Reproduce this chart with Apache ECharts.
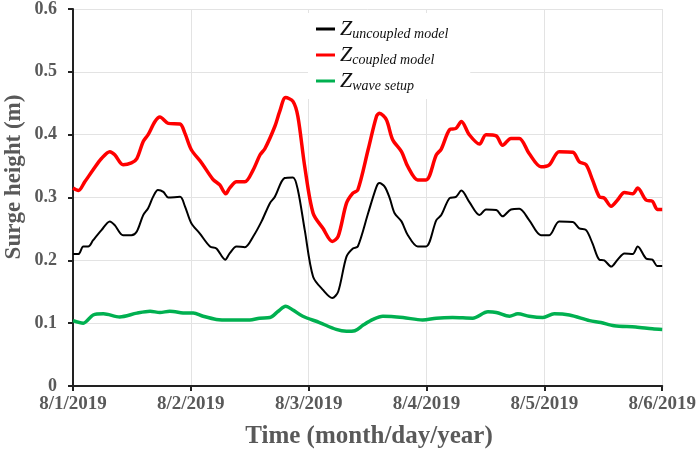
<!DOCTYPE html>
<html>
<head>
<meta charset="utf-8">
<script src="https://cdn.jsdelivr.net/npm/echarts@6/dist/echarts.min.js"></script>
<style>
html,body{margin:0;padding:0;background:#fff;}
#chart{width:699px;height:453px;}
</style>
</head>
<body>
<div id="chart"></div>
<script>
// Tick labels for x axis (every 24 h from 8/1/2019 00:00)
var dateLabels = ['8/1/2019','8/2/2019','8/3/2019','8/4/2019','8/5/2019','8/6/2019'];

// Z uncoupled model (black): hours since 8/1 00:00, surge (m)
var uncoupledHours = [0,1.1,2.1,3.1,4.1,5.8,7.5,8.5,10.2,11.9,13.0,14.3,15.3,16.3,17.3,18.4,19.4,21.8,22.8,24.1,25.8,27.9,29.2,31.0,31.9,33.3,35.0,36.7,38.4,40.1,41.1,43.1,44.8,45.8,47.2,48.9,50.9,52.8,54.0,55.7,57.0,58.0,60.1,61.8,62.4,63.5,64.5,65.5,66.9,68.2,70.2,71.9,74.0,75.0,76.7,78.0,79.1,80.7,82.8,84.1,86.2,87.5,89.2,90.9,92.9,95.3,97.0,99.0,101.8,103.1,104.5,105.8,107.2,108.2,109.6,110.9,112.3,114.0,115.0,116.7,118.0,119.0,120];
var uncoupledValues = [0.210,0.210,0.222,0.222,0.232,0.248,0.262,0.256,0.240,0.240,0.246,0.272,0.283,0.301,0.312,0.309,0.300,0.301,0.286,0.259,0.243,0.222,0.219,0.201,0.211,0.222,0.221,0.238,0.262,0.291,0.301,0.331,0.332,0.312,0.248,0.174,0.153,0.140,0.150,0.206,0.219,0.222,0.275,0.317,0.323,0.317,0.299,0.275,0.262,0.240,0.222,0.222,0.264,0.272,0.299,0.301,0.311,0.293,0.272,0.281,0.280,0.270,0.281,0.282,0.264,0.240,0.240,0.262,0.261,0.251,0.248,0.227,0.201,0.200,0.190,0.201,0.211,0.210,0.222,0.203,0.201,0.191,0.191];

// Z coupled model (red)
var coupledHours = [0,1.1,2.4,4.1,5.8,7.5,8.5,10.2,11.9,13.0,14.3,15.3,16.7,17.7,19.4,21.8,22.8,24.1,26.2,28.5,29.9,31.1,31.9,33.3,35.0,36.7,38.1,39.1,41.1,42.1,43.3,44.8,45.8,47.2,48.9,50.9,52.8,54.0,55.7,57.0,58.0,60.1,61.8,62.4,63.8,65.1,66.9,68.2,70.2,71.9,74.0,75.0,76.7,78.0,79.1,80.7,82.8,84.1,86.2,87.5,89.2,90.9,92.9,95.3,97.0,99.0,101.8,103.1,104.5,105.8,107.2,108.2,109.6,110.9,112.3,114.0,115.0,116.7,118.0,119.0,120];
var coupledValues = [0.315,0.311,0.325,0.344,0.362,0.373,0.368,0.352,0.355,0.362,0.389,0.400,0.421,0.428,0.418,0.417,0.402,0.376,0.355,0.329,0.320,0.306,0.315,0.325,0.325,0.344,0.368,0.378,0.413,0.437,0.459,0.453,0.429,0.349,0.275,0.251,0.230,0.238,0.291,0.307,0.312,0.376,0.429,0.434,0.424,0.392,0.373,0.349,0.328,0.328,0.368,0.377,0.408,0.410,0.421,0.400,0.385,0.400,0.398,0.383,0.394,0.394,0.370,0.349,0.352,0.373,0.372,0.357,0.352,0.328,0.301,0.299,0.286,0.296,0.308,0.306,0.315,0.296,0.294,0.281,0.281];

// Z wave setup (green)
var setupHours = [0,2.1,4.1,6.2,9.5,13.0,15.7,17.7,19.7,23.1,24.5,26.5,29.2,31.9,36.0,38.0,40.1,41.8,43.3,44.8,46.8,50.2,53.6,55.7,57.4,59.1,61.1,63.1,67.2,71.2,74.0,77.3,81.4,84.5,86.2,88.9,90.6,92.9,95.7,98.0,101.1,105.2,107.5,110.2,114.6,118.0,120];
var setupValues = [0.104,0.100,0.113,0.115,0.110,0.116,0.119,0.117,0.119,0.116,0.116,0.111,0.106,0.105,0.105,0.108,0.109,0.119,0.127,0.121,0.111,0.101,0.090,0.087,0.088,0.097,0.106,0.111,0.109,0.105,0.108,0.109,0.108,0.118,0.117,0.111,0.115,0.111,0.109,0.115,0.113,0.104,0.101,0.096,0.094,0.091,0.090];

var seriesNames = ['uncoupled','coupled','setup'];
var seriesLabels = {uncoupled:'uncoupled model', coupled:'coupled model', setup:'wave setup'};

function pairs(h, v){ return h.map(function(x,i){ return [x, v[i]]; }); }

var chart = echarts.init(document.getElementById('chart'));
var labelColor = '#595959';
var serif = '"Liberation Serif", "DejaVu Serif", serif';

chart.setOption({
  animation: false,
  backgroundColor: '#fff',
  grid: {left: 73, right: 36, top: 9, bottom: 67},
  legend: {
    orient: 'vertical',
    left: 308,
    top: 13,
    backgroundColor: '#fff',
    padding: [4, 22, 6, 8],
    itemGap: 2,
    itemWidth: 19,
    itemHeight: 3,
    icon: 'rect',
    data: seriesNames,
    formatter: function(name){ return '{z|Z}{s|' + seriesLabels[name] + '}'; },
    textStyle: {
      color: '#000',
      rich: {
        z: {fontFamily: serif, fontStyle: 'italic', fontSize: 22, color: '#111', lineHeight: 24},
        s: {fontFamily: serif, fontStyle: 'italic', fontSize: 14, color: '#111', padding: [10, 0, 0, 0], lineHeight: 24}
      }
    }
  },
  xAxis: {
    type: 'value',
    min: 0, max: 120, interval: 24,
    axisLine: {show: true, lineStyle: {color: '#222', width: 2}},
    axisTick: {show: true, length: 5, lineStyle: {color: '#222', width: 2}},
    axisLabel: {
      color: labelColor, fontFamily: serif, fontWeight: 'bold', fontSize: 19, margin: 9,
      formatter: function(v){ return dateLabels[Math.round(v/24)]; }
    },
    splitLine: {show: true, lineStyle: {color: '#e3e3e3', width: 1}}
  },
  yAxis: {
    type: 'value',
    min: 0, max: 0.6, interval: 0.1,
    axisLine: {show: true, lineStyle: {color: '#222', width: 2}},
    axisTick: {show: true, length: 5, lineStyle: {color: '#222', width: 2}},
    axisLabel: {
      color: labelColor, fontFamily: serif, fontWeight: 'bold', fontSize: 18, margin: 16,
      formatter: function(v){ return v === 0 ? '0' : v.toFixed(1); }
    },
    splitLine: {show: true, lineStyle: {color: '#e3e3e3', width: 1}}
  },
  graphic: [
    {type: 'text', x: 14, y: 177, rotation: Math.PI/2,
     style: {text: 'Surge height (m)', font: 'bold 23px "Liberation Serif"', fill: labelColor, textAlign: 'center', textVerticalAlign: 'middle', align: 'center', verticalAlign: 'middle'}},
    {type: 'text', x: 369, y: 437,
     style: {text: 'Time (month/day/year)', font: 'bold 25px "Liberation Serif"', fill: labelColor, textAlign: 'center', textVerticalAlign: 'middle', align: 'center', verticalAlign: 'middle'}}
  ],
  series: [
    {name: 'uncoupled', type: 'line', data: pairs(uncoupledHours, uncoupledValues), showSymbol: false, smooth: 0.3,
     lineStyle: {color: '#000', width: 2}, itemStyle: {color: '#000'}, z: 3},
    {name: 'coupled', type: 'line', data: pairs(coupledHours, coupledValues), showSymbol: false, smooth: 0.3,
     lineStyle: {color: '#ff0000', width: 3.5}, itemStyle: {color: '#ff0000'}, z: 2},
    {name: 'setup', type: 'line', data: pairs(setupHours, setupValues), showSymbol: false, smooth: 0.3,
     lineStyle: {color: '#00b050', width: 3.5}, itemStyle: {color: '#00b050'}, z: 2}
  ]
});
</script>
</body>
</html>
